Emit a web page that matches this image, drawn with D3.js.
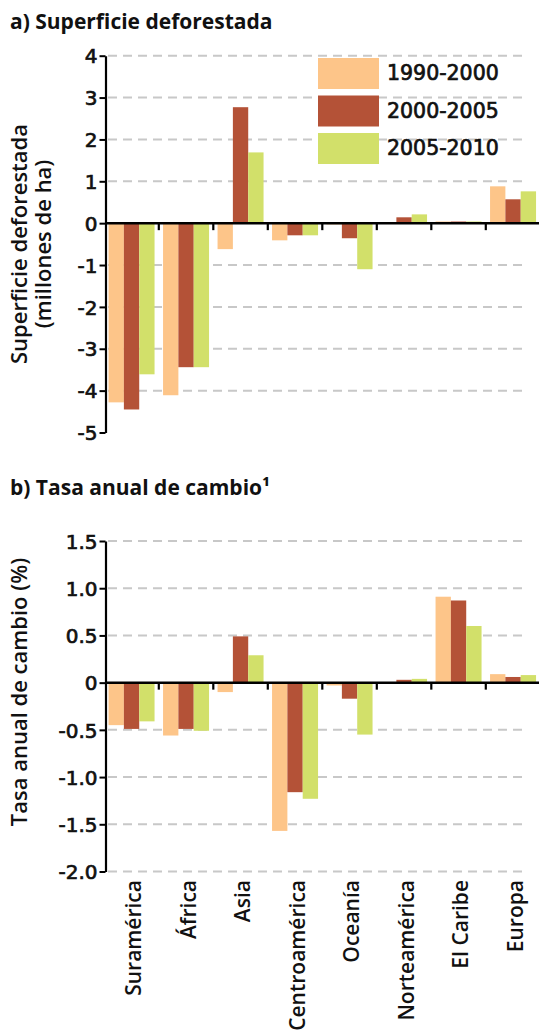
<!DOCTYPE html>
<html>
<head>
<meta charset="utf-8">
<script src="https://cdn.jsdelivr.net/npm/d3@7"></script>
<style>
  body { margin: 0; background: #fff; }
  svg { display: block; }
  .title { font-family: "Open Sans", sans-serif; font-weight: 700; font-size: 21px; fill: #111; }
  .ytitle { font-family: "Open Sans", sans-serif; font-weight: 600; font-size: 22px; fill: #111; }
  .num { font-family: "DejaVu Sans", sans-serif; font-weight: 400; font-size: 20px; fill: #111; stroke: #111; stroke-width: 0.7px; }
  .leg { font-size: 20.5px; }
  .cat { font-family: "Open Sans", sans-serif; font-weight: 600; font-size: 21px; fill: #111; }
</style>
</head>
<body>
<div id="chart"></div>
<script>
// categories and periods
const categories = ["Suramérica", "África", "Asia", "Centroamérica", "Oceanía", "Norteamérica", "El Caribe", "Europa"];
const periods = ["1990-2000", "2000-2005", "2005-2010"];
const periodColors = ["#FDC589", "#B45237", "#D2E06A"];

// a) deforested area (million ha), one array per period
const area1990 = [-4.28, -4.11, -0.62, -0.41, -0.03, 0.00, 0.04, 0.88];
const area2000 = [-4.45, -3.44, 2.77, -0.29, -0.36, 0.14, 0.04, 0.57];
const area2005 = [-3.61, -3.44, 1.69, -0.29, -1.10, 0.21, 0.04, 0.76];

// b) annual rate of change (%)
const rate1990 = [-0.45, -0.56, -0.10, -1.57, -0.03, 0.00, 0.91, 0.09];
const rate2000 = [-0.49, -0.49, 0.49, -1.16, -0.17, 0.03, 0.87, 0.06];
const rate2005 = [-0.41, -0.51, 0.29, -1.23, -0.55, 0.04, 0.60, 0.08];

// tick values and labels
const areaTicks = [4, 3, 2, 1, 0, -1, -2, -3, -4, -5];
const areaGrid = [4, 3, 2, 1, -1, -2, -3, -4];
const rateTicks = [1.5, 1.0, 0.5, 0, -0.5, -1.0, -1.5, -2.0];
const rateTickLabels = ["1.5", "1.0", "0.5", "0", "-0.5", "-1.0", "-1.5", "-2.0"];
const rateGrid = [1.5, 1.0, 0.5, -0.5, -1.0, -1.5, -2.0];

const width = 539, height = 1032;
const axisX = 105.5;

const svg = d3.select("#chart").append("svg")
    .attr("width", width)
    .attr("height", height);

// shared x scales
const x = d3.scaleBand()
    .domain(categories)
    .range([104.3, 540.3])
    .paddingInner(0.156)
    .paddingOuter(0.078);

const xPeriod = d3.scaleBand()
    .domain(periods)
    .range([0, x.bandwidth()]);

const color = d3.scaleOrdinal().domain(periods).range(periodColors);

function drawPanel(opts) {
    const g = svg.append("g");
    const y = d3.scaleLinear().domain(opts.domain).range(opts.range);

    // panel title
    g.append("text")
        .attr("class", "title")
        .attr("x", 10)
        .attr("y", opts.titleY)
        .text(opts.title);

    // y title (rotated, possibly several lines)
    const yt = g.append("text")
        .attr("class", "ytitle")
        .attr("text-anchor", "middle")
        .attr("transform", "translate(" + opts.yTitleX + "," + opts.yTitleY + ") rotate(-90)");
    opts.yTitle.forEach((line, i) => {
        yt.append("tspan")
            .attr("x", 0)
            .attr("dy", i === 0 ? 0 : 23.5)
            .text(line);
    });

    // dashed gridlines (behind bars)
    g.selectAll(".grid")
        .data(opts.grid)
        .join("line")
        .attr("class", "grid")
        .attr("x1", 108)
        .attr("x2", 525)
        .attr("y1", d => y(d))
        .attr("y2", d => y(d))
        .attr("stroke", "#c8c8c8")
        .attr("stroke-width", 2)
        .attr("stroke-dasharray", "9,6");

    // bars
    const rows = categories.map((c, i) => ({
        category: c,
        values: periods.map((p, j) => ({ period: p, value: opts.series[j][i] }))
    }));

    const groups = g.selectAll(".catG")
        .data(rows)
        .join("g")
        .attr("class", "catG")
        .attr("transform", d => "translate(" + x(d.category) + ",0)");

    groups.selectAll("rect")
        .data(d => d.values)
        .join("rect")
        .attr("x", d => xPeriod(d.period))
        .attr("width", xPeriod.bandwidth())
        .attr("y", d => y(Math.max(0, d.value)))
        .attr("height", d => Math.abs(y(d.value) - y(0)))
        .attr("fill", d => color(d.period));

    // zero line with separators
    g.append("line")
        .attr("x1", axisX)
        .attr("x2", width)
        .attr("y1", y(0))
        .attr("y2", y(0))
        .attr("stroke", "#000")
        .attr("stroke-width", 2.5);

    const seps = d3.range(1, categories.length).map(k => x.range()[0] + k * x.step());
    g.selectAll(".sep")
        .data(seps)
        .join("line")
        .attr("class", "sep")
        .attr("x1", d => d)
        .attr("x2", d => d)
        .attr("y1", y(0))
        .attr("y2", y(0) + 7)
        .attr("stroke", "#000")
        .attr("stroke-width", 2.2);

    // left axis
    const axis = d3.axisLeft(y)
        .tickValues(opts.ticks)
        .tickFormat((d, i) => opts.tickLabels[i])
        .tickSize(6)
        .tickSizeOuter(0)
        .tickPadding(2);

    const ag = g.append("g")
        .attr("transform", "translate(" + axisX + ",0)")
        .call(axis);
    ag.select(".domain").attr("stroke-width", 2.2).attr("stroke", "#000");
    ag.selectAll(".tick line").attr("stroke-width", 2).attr("stroke", "#000");
    ag.selectAll(".tick text")
        .attr("class", "num")
        .attr("fill", null)
        .attr("dy", "0.36em");
    ag.attr("font-size", null).attr("font-family", null);

    return { g: g, y: y };
}

// panel a
const panelA = drawPanel({
    title: "a) Superficie deforestada",
    titleY: 29,
    yTitle: ["Superficie deforestada", "(millones de ha)"],
    yTitleX: 27,
    yTitleY: 244,
    domain: [-5, 4],
    range: [432.5, 55.7],
    ticks: areaTicks,
    tickLabels: areaTicks.map(String),
    grid: areaGrid,
    series: [area1990, area2000, area2005]
});

// legend
const legend = panelA.g.append("g").attr("transform", "translate(318,58)");
const legendItems = legend.selectAll(".legItem")
    .data(periods)
    .join("g")
    .attr("class", "legItem")
    .attr("transform", (d, i) => "translate(0," + (i * 37.5) + ")");
legendItems.append("rect")
    .attr("width", 61)
    .attr("height", 31)
    .attr("fill", d => color(d));
legendItems.append("text")
    .attr("class", "num leg")
    .attr("x", 69)
    .attr("y", 22)
    .text(d => d);

// panel b
const panelB = drawPanel({
    title: "b) Tasa anual de cambio\u00b9",
    titleY: 495,
    yTitle: ["Tasa anual de cambio (%)"],
    yTitleX: 27,
    yTitleY: 692,
    domain: [-2, 1.5],
    range: [871.5, 541],
    ticks: rateTicks,
    tickLabels: rateTickLabels,
    grid: rateGrid,
    series: [rate1990, rate2000, rate2005]
});

// category labels under panel b
panelB.g.selectAll(".cat")
    .data(categories)
    .join("text")
    .attr("class", "cat")
    .attr("text-anchor", "end")
    .attr("transform", d => "translate(" + (x(d) + x.bandwidth() / 2) + ",880) rotate(-90)")
    .attr("dy", "0.46em")
    .text(d => d);
</script>
</body>
</html>
